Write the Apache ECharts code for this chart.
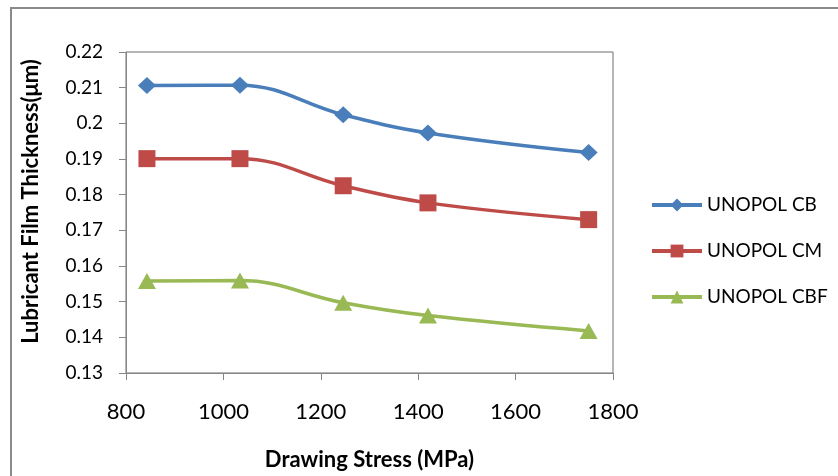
<!DOCTYPE html>
<html>
<head>
<meta charset="utf-8">
<script src="https://cdn.jsdelivr.net/npm/echarts@6/dist/echarts.min.js"></script>
<style>
  html, body { margin: 0; padding: 0; background: #fff; }
  #container { width: 838px; height: 476px; }
</style>
</head>
<body>
<div id="container"></div>
<script>
// drawing stress (MPa) for each measured point
var stress = [843, 1034, 1246, 1420, 1750];

// lubricant film thickness (um) per lubricant
var unopolCB  = [0.2106, 0.2107, 0.2024, 0.1973, 0.1918];
var unopolCM  = [0.1901, 0.1901, 0.1825, 0.1777, 0.1730];
var unopolCBF = [0.1558, 0.1559, 0.1497, 0.1461, 0.1418];

var seriesNames = ['UNOPOL CB', 'UNOPOL CM', 'UNOPOL CBF'];

function pairs(ys) {
    var out = [];
    for (var i = 0; i < stress.length; i++) {
        out.push([stress[i], ys[i]]);
    }
    return out;
}

var dom = document.getElementById("container");
var myChart = echarts.init(dom);
var font = 'Lato, "Open Sans", sans-serif';

var option = {
    animation: false,
    textStyle: { fontFamily: font },
    graphic: [{
        type: 'rect',
        shape: { x: 11, y: 8, width: 900, height: 520 },
        style: { fill: 'none', stroke: '#8a8a8a', lineWidth: 2 },
        silent: true
    }],
    grid: {
        left: 126, top: 52, right: 225, bottom: 101,
        show: true,
        borderColor: '#6e6e6e',
        borderWidth: 1
    },
    legend: {
        orient: 'vertical',
        left: 645,
        top: 190,
        itemWidth: 50,
        itemHeight: 16,
        itemGap: 26,
        lineStyle: { width: 4 },
        textStyle: { fontFamily: font, fontSize: 19, color: '#000', lineHeight: 20 },
        data: seriesNames
    },
    xAxis: {
        type: 'value',
        min: 800, max: 1800, interval: 200,
        name: 'Drawing Stress (MPa)',
        nameLocation: 'middle',
        nameGap: 76,
        nameTextStyle: { fontFamily: font, fontSize: 22, fontWeight: 'bold', color: '#000' },
        axisLine: { lineStyle: { color: '#868686', width: 1 } },
        axisTick: { show: true, inside: false, length: 7, lineStyle: { color: '#868686' } },
        axisLabel: {
            fontSize: 22, color: '#000', margin: 28,
            formatter: function (v) { return String(v); }
        },
        splitLine: { show: false }
    },
    yAxis: {
        type: 'value',
        min: 0.13, max: 0.22, interval: 0.01,
        name: 'Lubricant Film Thickness(\u03bcm)',
        nameLocation: 'middle',
        nameGap: 84,
        nameTextStyle: { fontFamily: font, fontSize: 22, fontWeight: 'bold', color: '#000', padding: [0, 0, 0, 22] },
        axisLine: { show: true, lineStyle: { color: '#868686', width: 1 } },
        axisTick: { show: true, inside: false, length: 7, lineStyle: { color: '#868686' } },
        axisLabel: {
            fontSize: 19, color: '#000', margin: 23,
            formatter: function (v) { return String(Math.round(v * 100) / 100); }
        },
        splitLine: { show: false }
    },
    series: [
        {
            name: seriesNames[0],
            type: 'line',
            smooth: 0.4,
            symbol: 'diamond',
            symbolSize: [18, 17],
            itemStyle: { color: '#4a7ebb' },
            lineStyle: { width: 3.5, color: '#4a7ebb' },
            data: pairs(unopolCB)
        },
        {
            name: seriesNames[1],
            type: 'line',
            smooth: 0.4,
            symbol: 'rect',
            symbolSize: [17, 17],
            itemStyle: { color: '#be4b48' },
            lineStyle: { width: 3.5, color: '#be4b48' },
            data: pairs(unopolCM)
        },
        {
            name: seriesNames[2],
            type: 'line',
            smooth: 0.4,
            symbol: 'triangle',
            symbolSize: [18, 16],
            itemStyle: { color: '#98b954' },
            lineStyle: { width: 3.5, color: '#98b954' },
            data: pairs(unopolCBF)
        }
    ]
};

if (option && typeof option === "object") {
    myChart.setOption(option, true);
}
</script>
</body>
</html>
